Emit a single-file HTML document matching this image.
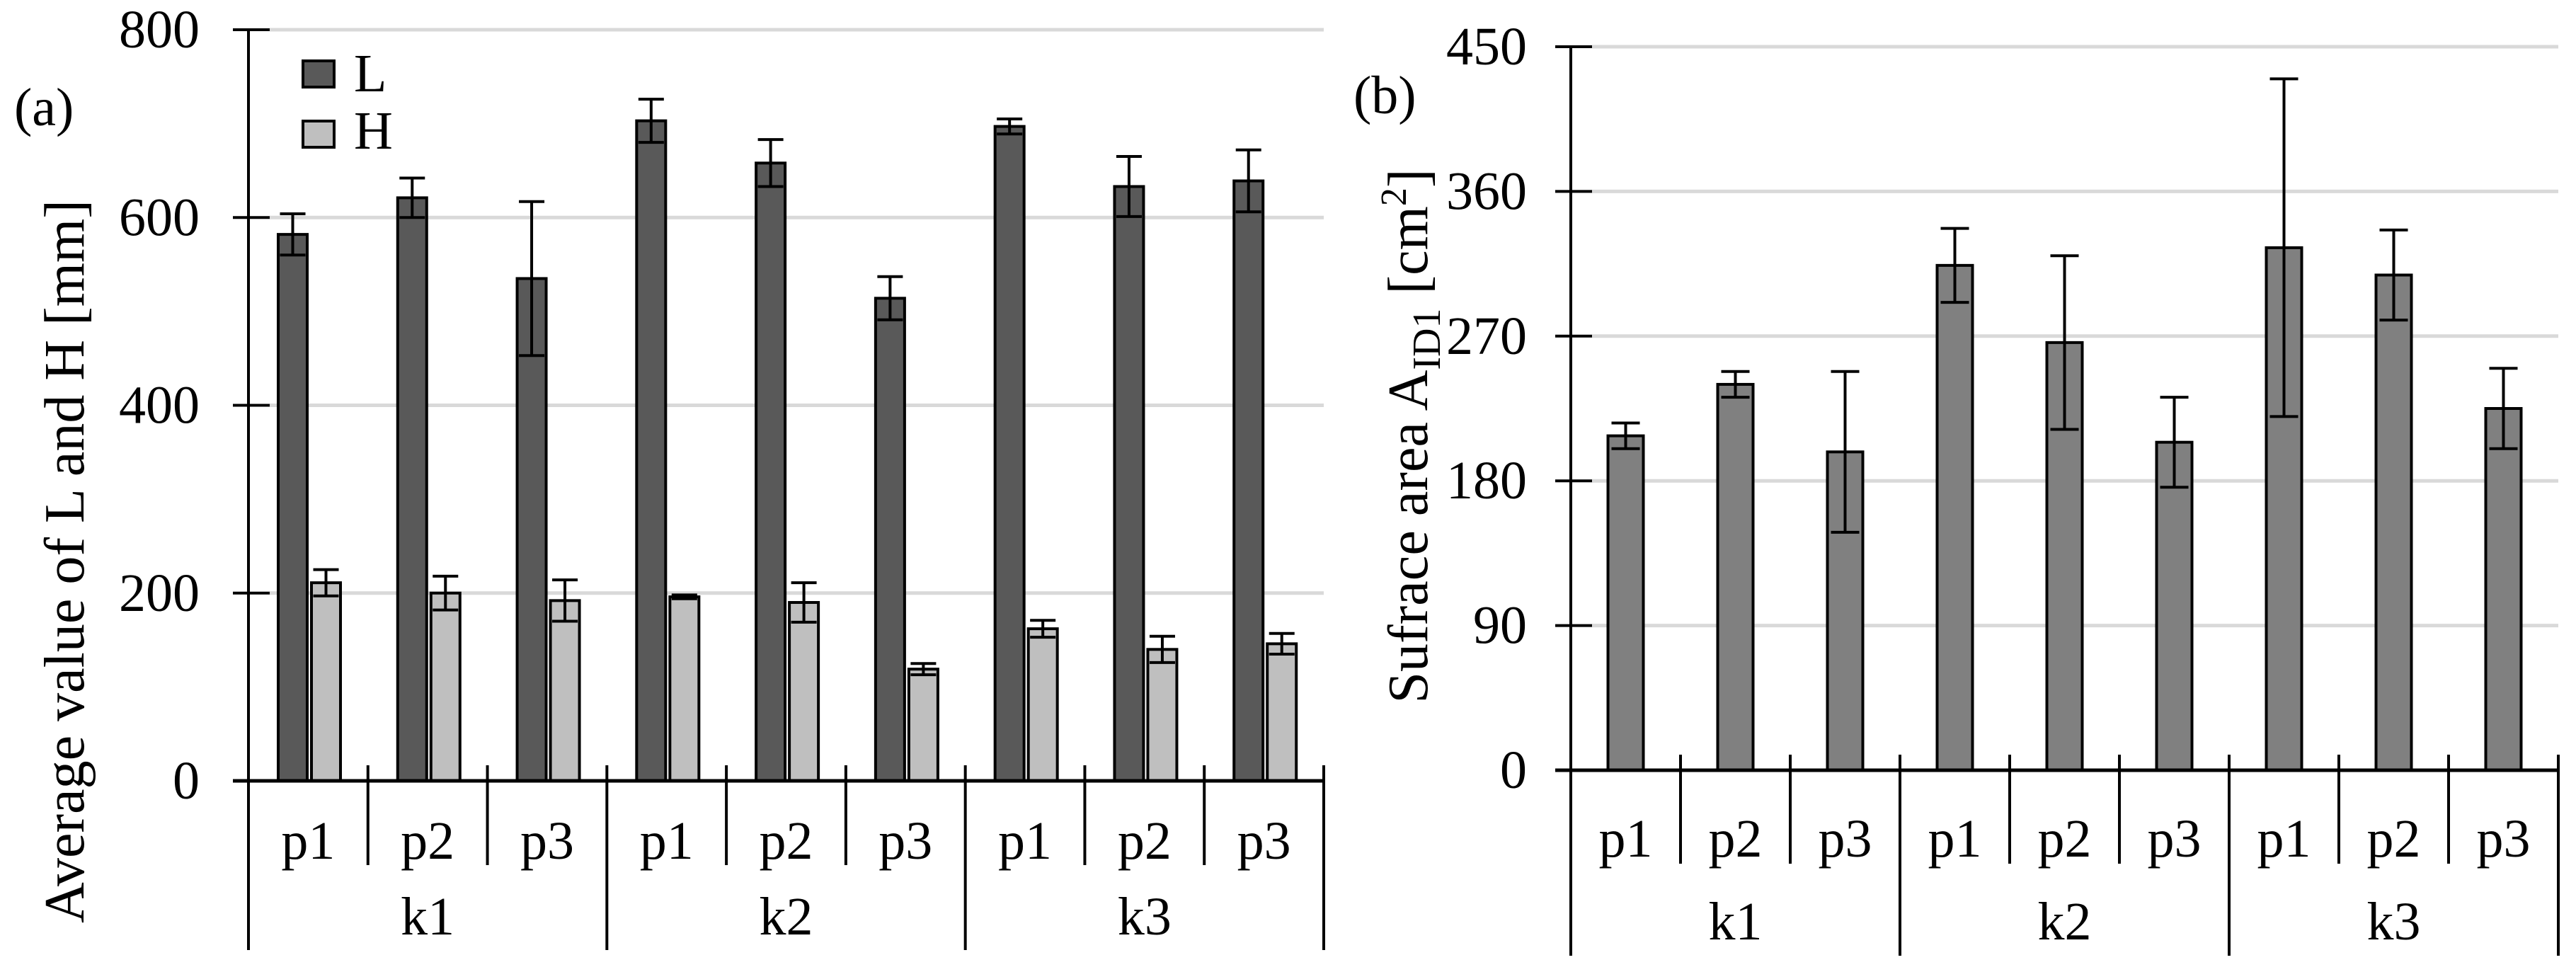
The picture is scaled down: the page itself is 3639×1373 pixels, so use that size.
<!DOCTYPE html>
<html><head><meta charset="utf-8"><style>
html,body{margin:0;padding:0;background:#fff}
svg{display:block}
text{font-family:"Liberation Serif",serif;fill:#000}
</style></head><body>
<svg id="chart" width="3639" height="1373" viewBox="0 0 3639 1373" xmlns="http://www.w3.org/2000/svg">
<g id="gA"></g>
<g id="gB"></g>
</svg>
<script>
const groups = ['k1','k2','k3'];
const cats = ['p1','p2','p3','p1','p2','p3','p1','p2','p3'];
const lVals = [582, 621, 535, 703, 658, 514, 697, 633, 639];
const lErr = [22, 21, 82, 23, 25, 23, 8, 32, 33];
const hVals = [211, 200, 192, 196, 190, 119, 162, 140, 146];
const hErr = [14, 18, 22, 2, 21, 6, 9, 14, 11];
const aTicks = [0, 200, 400, 600, 800];
const bVals = [208, 240, 198, 314, 266, 204, 325, 308, 225];
const bErr = [8, 8, 50, 23, 54, 28, 105, 28, 25];
const bTicks = [0, 90, 180, 270, 360, 450];

const NS = 'http://www.w3.org/2000/svg';
function mk(parent, tag, attrs, txt){
  const e = document.createElementNS(NS, tag);
  for (const k in attrs) e.setAttribute(k, attrs[k]);
  if (txt !== undefined) e.textContent = txt;
  parent.appendChild(e);
  return e;
}

function drawAxes(g, o){
  const yScale = v => o.y0 - (v - 0) / o.max * (o.y0 - o.yTop);
  o.ticks.forEach(t => {
    const y = yScale(t);
    if (t > 0) {
      const gl = mk(g, 'line', {x1:o.x0+30, x2:o.x1, y1:y, y2:y, stroke:'#d9d9d9', 'stroke-width':5});
      
      
    }
    const tk = mk(g, 'line', {x1:o.x0-22, x2:o.x0+30, y1:y, y2:y, stroke:'#000', 'stroke-width':4});
    
    
    const tl = mk(g, 'text', {x:o.labX, y:y+25, 'text-anchor':'end', 'font-size':76}, String(t));
    
    
  });
  return yScale;
}

function drawCatAxis(g, o){
  const step = (o.x1 - o.x0) / cats.length;
  const ax = mk(g, 'line', {x1:o.x0-22, x2:o.x1, y1:o.y0, y2:o.y0, stroke:'#000', 'stroke-width':5});
  
  
  const ya = mk(g, 'line', {x1:o.x0, x2:o.x0, y1:o.yTop, y2:o.longEnd, stroke:'#000', 'stroke-width':4});
  
  
  for (let i = 1; i <= cats.length; i++) {
    const x = o.x0 + i * step;
    const long = (i % 3 === 0);
    const sep = mk(g, 'line', {x1:x, x2:x, y1:o.y0-22, y2: long ? o.longEnd : o.shortEnd, stroke:'#000', 'stroke-width':4});
    
    
  }
  cats.forEach((c, i) => {
    const t = mk(g, 'text', {x:o.x0 + (i+0.5)*step, y:o.pY, 'text-anchor':'middle', 'font-size':76}, c);
    
    
  });
  groups.forEach((k, i) => {
    const t = mk(g, 'text', {x:o.x0 + (i*3+1.5)*step, y:o.kY, 'text-anchor':'middle', 'font-size':76}, k);
    
    
  });
  return step;
}

function errBar(g, x, yTopV, yBotV, cap, name){
  const e = mk(g, 'path', {d:`M${x-cap} ${yTopV}H${x+cap}M${x} ${yTopV}V${yBotV}M${x-cap} ${yBotV}H${x+cap}`, stroke:'#000', 'stroke-width':4, fill:'none'});
  
  
}

// Chart A
(function(){
  const g = document.getElementById('gA');
  const o = {x0:351, x1:1870, y0:1103, yTop:42, max:800, ticks:aTicks, labX:282, longEnd:1342, shortEnd:1222, pY:1213, kY:1320};
  const y = drawAxes(g, o);
  const step = (o.x1 - o.x0) / cats.length;
  const bw = 41;
  cats.forEach((c, i) => {
    const cs = o.x0 + i*step;
    const lx = cs + 42, hx = cs + 42 + bw + 6;
    const r1 = mk(g, 'rect', {x:lx, y:y(lVals[i]), width:bw, height:o.y0 - y(lVals[i]), fill:'#595959', stroke:'#000', 'stroke-width':4});
    
    
    const r2 = mk(g, 'rect', {x:hx, y:y(hVals[i]), width:bw, height:o.y0 - y(hVals[i]), fill:'#bfbfbf', stroke:'#000', 'stroke-width':4});
    
    
    errBar(g, lx + bw/2, y(lVals[i]+lErr[i]), y(lVals[i]-lErr[i]), 18, 'error-bar-L');
    errBar(g, hx + bw/2, y(hVals[i]+hErr[i]), y(hVals[i]-hErr[i]), 18, 'error-bar-H');
  });
  drawCatAxis(g, o);
  const lg1 = mk(g, 'rect', {x:428, y:86, width:44, height:37, fill:'#595959', stroke:'#000', 'stroke-width':4});
   
  const lt1 = mk(g, 'text', {x:500, y:129, 'font-size':76}, 'L');
   
  const lg2 = mk(g, 'rect', {x:428, y:171, width:44, height:37, fill:'#bfbfbf', stroke:'#000', 'stroke-width':4});
   
  const lt2 = mk(g, 'text', {x:500, y:210, 'font-size':76}, 'H');
   
  const pa = mk(g, 'text', {x:20, y:177, 'font-size':76}, '(a)');
   
  const yt = mk(g, 'text', {x:0, y:0, 'font-size':80, 'text-anchor':'middle', transform:'translate(118,793) rotate(-90)'}, 'Average value of L and H [mm]');
   
})();

// Chart B
(function(){
  const g = document.getElementById('gB');
  const o = {x0:2219, x1:3614, y0:1088, yTop:66, max:450, ticks:bTicks, labX:2157, longEnd:1350, shortEnd:1220, pY:1210, kY:1327};
  const y = drawAxes(g, o);
  const step = (o.x1 - o.x0) / cats.length;
  const bw = 50;
  cats.forEach((c, i) => {
    const cx = o.x0 + (i+0.5)*step;
    const r = mk(g, 'rect', {x:cx - bw/2, y:y(bVals[i]), width:bw, height:o.y0 - y(bVals[i]), fill:'#808080', stroke:'#000', 'stroke-width':4});
    
    
    errBar(g, cx, y(bVals[i]+bErr[i]), y(bVals[i]-bErr[i]), 20, 'error-bar-area');
  });
  drawCatAxis(g, o);
  const pb = mk(g, 'text', {x:1912, y:160, 'font-size':76}, '(b)');
   
  const yt = mk(g, 'text', {x:0, y:0, 'font-size':80, 'text-anchor':'middle', transform:'translate(2016,616) rotate(-90)'});
   
  mk(yt, 'tspan', {}, 'Sufrace area A');
  mk(yt, 'tspan', {'font-size':56, dy:18}, 'ID1');
  mk(yt, 'tspan', {dy:-18}, ' [cm');
  mk(yt, 'tspan', {'font-size':52, dy:-30}, '2');
  mk(yt, 'tspan', {dy:30}, ']');
})();
</script>
</body></html>
